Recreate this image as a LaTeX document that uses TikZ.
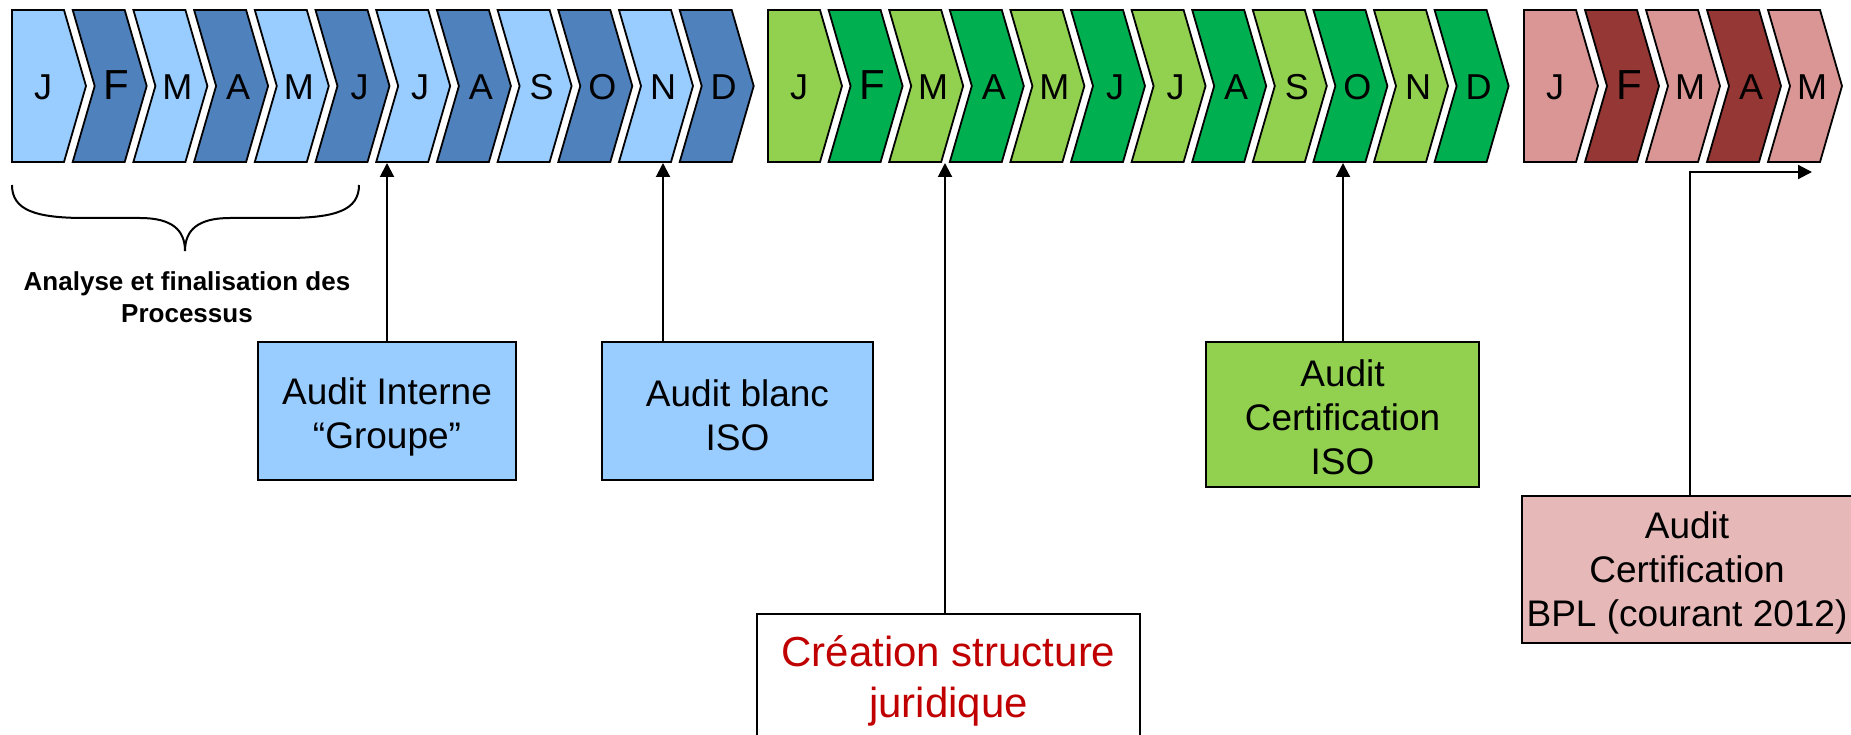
\documentclass[tikz,border=0pt]{standalone}
\usepackage{fontspec}
\setmainfont{Liberation Sans}
\usetikzlibrary{arrows.meta}
\definecolor{bluL}{HTML}{99CCFF}
\definecolor{bluD}{HTML}{4F81BD}
\definecolor{grnL}{HTML}{92D050}
\definecolor{grnD}{HTML}{00B050}
\definecolor{redL}{HTML}{D99694}
\definecolor{redD}{HTML}{953735}
\definecolor{pinkbox}{HTML}{E6B9B8}
\definecolor{txtred}{HTML}{C00000}
\newcommand{\mfont}[1]{\if F#1\fontsize{42}{46}\selectfont\else\fontsize{36}{40}\selectfont\fi #1}
\begin{document}
\begin{tikzpicture}[x=1pt,y=-1pt,
  chev/.style={draw=black,line width=1.8pt,line join=miter},
  month/.style={anchor=base,inner sep=0pt},
  box/.style={draw=black,line width=1.8pt},
  boxtext/.style={align=center,inner sep=0pt,font=\fontsize{37}{44}\selectfont},
  conn/.style={line width=2pt,-{Triangle[length=14pt,width=14pt]}}]
\useasboundingbox (0,0) rectangle (1851,735);
\clip (0,0) rectangle (1851,735);
\fill[white] (0,0) rectangle (1851,735);
% blue chevrons
\foreach \i/\m/\c in {0/J/bluL,1/F/bluD,2/M/bluL,3/A/bluD,4/M/bluL,5/J/bluD,6/J/bluL,7/A/bluD,8/S/bluL,9/O/bluD,10/N/bluL,11/D/bluD}{
  \pgfmathsetmacro\L{12+\i*60.7}
  \ifnum\i=0
    \filldraw[chev,fill=\c] (\L,10) -- ++(52,0) -- ++(22,76) -- ++(-22,76) -- ++(-52,0) -- cycle;
    \node[month] (b\i) at (\L+31,100) {\mfont{\m}};
  \else
    \filldraw[chev,fill=\c] (\L,10) -- ++(52,0) -- ++(22,76) -- ++(-22,76) -- ++(-52,0) -- ++(22,-76) -- cycle;
    \node[month] (b\i) at (\L+44,100) {\mfont{\m}};
  \fi
}
% green chevrons
\foreach \i/\m/\c in {0/J/grnL,1/F/grnD,2/M/grnL,3/A/grnD,4/M/grnL,5/J/grnD,6/J/grnL,7/A/grnD,8/S/grnL,9/O/grnD,10/N/grnL,11/D/grnD}{
  \pgfmathsetmacro\L{768+\i*60.6}
  \ifnum\i=0
    \filldraw[chev,fill=\c] (\L,10) -- ++(52,0) -- ++(22,76) -- ++(-22,76) -- ++(-52,0) -- cycle;
    \node[month] (g\i) at (\L+31,100) {\mfont{\m}};
  \else
    \filldraw[chev,fill=\c] (\L,10) -- ++(52,0) -- ++(22,76) -- ++(-22,76) -- ++(-52,0) -- ++(22,-76) -- cycle;
    \node[month] (g\i) at (\L+44,100) {\mfont{\m}};
  \fi
}
% red chevrons
\foreach \i/\m/\c in {0/J/redL,1/F/redD,2/M/redL,3/A/redD,4/M/redL}{
  \pgfmathsetmacro\L{1524+\i*61}
  \ifnum\i=0
    \filldraw[chev,fill=\c] (\L,10) -- ++(52,0) -- ++(22,76) -- ++(-22,76) -- ++(-52,0) -- cycle;
    \node[month] (r\i) at (\L+31,100) {\mfont{\m}};
  \else
    \filldraw[chev,fill=\c] (\L,10) -- ++(52,0) -- ++(22,76) -- ++(-22,76) -- ++(-52,0) -- ++(22,-76) -- cycle;
    \node[month] (r\i) at (\L+44,100) {\mfont{\m}};
  \fi
}
% brace
\draw[line width=2pt] (12,185) .. controls (12,210) and (35,218) .. (85,218) -- (140,218) .. controls (172,218) and (185,230) .. (185,251) .. controls (185,230) and (198,218) .. (230,218) -- (286,218) .. controls (336,218) and (359,210) .. (359,185);
\node[font=\bfseries\fontsize{26}{32}\selectfont,align=center,inner sep=0pt] (brtxt) at (187,297) {Analyse et finalisation des\\Processus};
% boxes
\node[box,fill=bluL,minimum width=258pt,minimum height=138pt] (box1) at (387,411) {};
\node[boxtext,yshift=-6pt] (box1t) at (box1.center) {Audit Interne\\“Groupe”};
\node[box,fill=bluL,minimum width=271pt,minimum height=138pt] (box2) at (737.5,411) {};
\node[boxtext,yshift=-4pt] (box2t) at (box2.center) {Audit blanc\\ISO};
\node[box,fill=white,minimum width=383pt,minimum height=134pt] (box3) at (948.5,681) {};
\node[boxtext,text=txtred,font=\fontsize{42}{51}\selectfont] (box3t) at (box3.center) {Création structure\\juridique};
\node[box,fill=grnL,minimum width=273pt,minimum height=145pt] (box4) at (1342.5,414.5) {};
\node[boxtext,yshift=-3pt] (box4t) at (box4.center) {Audit\\Certification\\ISO};
\node[box,fill=pinkbox,minimum width=330pt,minimum height=147pt] (box5) at (1687,569.5) {};
\node[boxtext,yshift=-3pt] (box5t) at (box5.center) {Audit\\Certification\\BPL (courant 2012)};
% connectors
\coordinate (t1) at (387,163);
\coordinate (t2) at (663,163);
\coordinate (t3) at (945,163);
\coordinate (t4) at (1343,163);
\coordinate (p5) at (1690,172);
\coordinate (t5) at (1812,172);
\draw[conn] (box1.north -| t1) -- (t1);
\draw[conn] (box2.north -| t2) -- (t2);
\draw[conn] (box3.north -| t3) -- (t3);
\draw[conn] (box4.north -| t4) -- (t4);
\draw[line width=1.2pt] (box5.north -| p5) -- (p5);
\draw[conn] ([xshift=-0.6pt]p5) -- (t5);
\end{tikzpicture}
\end{document}
